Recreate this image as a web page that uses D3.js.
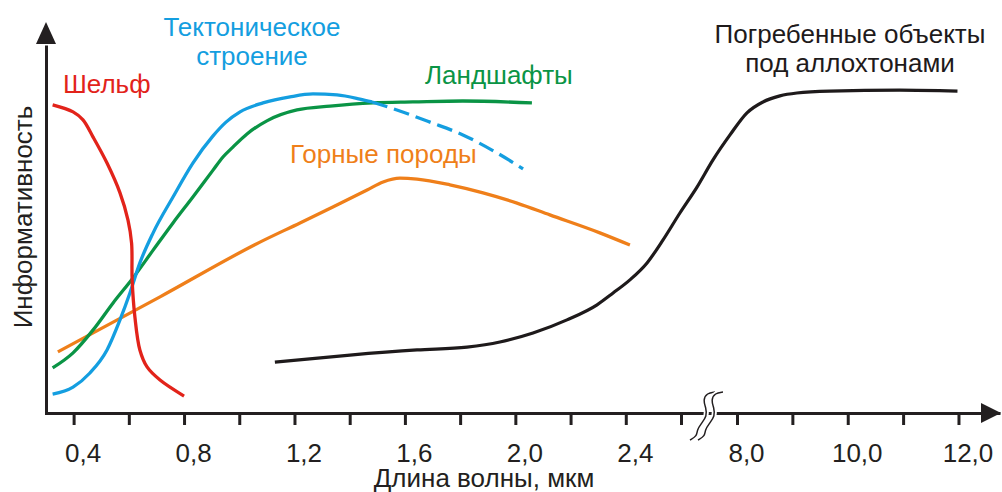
<!DOCTYPE html>
<html>
<head>
<meta charset="utf-8">
<script src="https://cdn.jsdelivr.net/npm/d3@7"></script>
<style>
  body { margin: 0; background: #fff; }
  svg text { font-family: "Liberation Sans", Arial, sans-serif; font-size: 26px; }
</style>
</head>
<body>
<svg id="graphic" width="1002" height="492"></svg>
<script>
// wavelength (µm) and informativeness (relative units, 0..100)
const shelfX = [0.324, 0.398, 0.434, 0.470, 0.521, 0.568, 0.597, 0.610, 0.612, 0.622, 0.640, 0.666, 0.713, 0.800];
const shelfY = [96.3, 94.1, 91.6, 86.3, 78.1, 68.8, 60.3, 53.1, 41.6, 30.0, 19.7, 14.4, 10.3, 5.3];

const tectonicX = [0.324, 0.398, 0.459, 0.521, 0.568, 0.604, 0.640, 0.688, 0.760, 0.832, 0.905, 0.952, 1.003, 1.086, 1.184, 1.267, 1.354, 1.437, 1.481];
const tectonicY = [5.9, 8.1, 12.5, 19.7, 29.1, 37.5, 46.9, 56.3, 67.5, 78.1, 86.6, 90.9, 94.1, 96.9, 98.8, 99.7, 99.4, 98.1, 97.2];
// dashed continuation of the same curve
const tectonicDashX = [1.481, 1.571, 1.691, 1.810, 1.933, 2.028];
const tectonicDashY = [97.2, 94.7, 90.9, 86.9, 81.3, 76.3];

const landscapeX = [0.324, 0.398, 0.470, 0.543, 0.615, 0.688, 0.760, 0.832, 0.905, 0.941, 0.977, 1.028, 1.100, 1.209, 1.329, 1.484, 1.629, 1.810, 2.060];
const landscapeY = [14.1, 18.8, 25.9, 34.4, 42.2, 50.9, 59.4, 67.5, 75.9, 80.0, 83.1, 87.2, 91.3, 94.7, 95.9, 96.9, 97.2, 97.5, 96.9];

const rocksX = [0.343, 0.713, 1.075, 1.220, 1.339, 1.463, 1.521, 1.582, 1.644, 1.763, 1.883, 2.006, 2.125, 2.306, 2.415];
const rocksY = [19.1, 36.3, 53.4, 59.4, 64.4, 69.7, 72.2, 73.4, 73.1, 71.3, 68.8, 65.6, 61.9, 56.3, 52.5];

const buriedX = [1.129, 1.401, 1.644, 1.825, 1.944, 2.064, 2.187, 2.296, 2.354, 2.415, 2.477, 2.535, 2.596, 4.143, 5.686, 7.325, 8.180, 8.468, 8.775, 9.081, 9.676, 10.937, 11.982];
const buriedY = [15.9, 18.1, 19.7, 20.6, 22.2, 25.0, 29.1, 33.8, 37.5, 41.6, 46.9, 54.1, 62.5, 70.6, 79.1, 86.9, 93.8, 97.2, 99.1, 100, 100.6, 100.9, 100.6];

const tickValues = [0.4, 0.6, 0.8, 1.0, 1.2, 1.4, 1.6, 1.8, 2.0, 2.2, 2.4, 2.6, 8, 9, 10, 11, 12];
const labelValues = [0.4, 0.8, 1.2, 1.6, 2.0, 2.4, 8, 10, 12];
const labelTexts = ["0,4", "0,8", "1,2", "1,6", "2,0", "2,4", "8,0", "10,0", "12,0"];

const xTitle = "Длина волны, мкм";
const yTitle = "Информативность";

const ink = "#231f20";
const red = "#e2231a", blue = "#149ee0", green = "#0a9445", orange = "#ef7f1a", black = "#1e1a1b";

let svg = d3.select('#graphic');

// broken axis: 0.3..2.6 then 8..12.75
let x = d3.scaleLinear()
    .domain([0.3, 2.6, 8, 12.75])
    .range([46, 681, 737, 1000]);

let y = d3.scaleLinear()
    .domain([0, 100])
    .range([413, 93]);

let lineX = d3.line()
    .x(d => x(d[0]))
    .y(d => y(d[1]))
    .curve(d3.curveMonotoneX);

// shelf curve is nearly vertical, monotone-x would break on it
let lineCR = d3.line()
    .x(d => x(d[0]))
    .y(d => y(d[1]))
    .curve(d3.curveCatmullRom.alpha(0.5));

const zip = (a, b) => a.map((v, i) => [v, b[i]]);

// axes
let xAxis = d3.axisBottom(x)
    .tickValues(tickValues)
    .tickSize(12)
    .tickSizeOuter(0)
    .tickFormat(v => {
        let i = labelValues.findIndex(l => Math.abs(l - v) < 1e-6);
        return i < 0 ? "" : labelTexts[i];
    });

let gx = svg.append('g')
    .attr('transform', `translate(0, ${y(0)})`)
    .call(xAxis);
gx.select('.domain').attr('stroke', ink).attr('stroke-width', 3);
gx.selectAll('.tick line').attr('stroke', ink).attr('stroke-width', 3);
gx.selectAll('.tick text')
    .attr('font-size', 26)
    .attr('font-family', '"Liberation Sans", Arial, sans-serif')
    .attr('fill', ink)
    .attr('x', 9)
    .attr('y', 49)
    .attr('dy', 0);

svg.append('path')
    .attr('d', `M${x(12.75) + 1},${y(0)} L${x(12.75) - 19},${y(0) - 10} L${x(12.75) - 19},${y(0) + 10} Z`)
    .attr('fill', ink);

let yAxis = d3.axisLeft(y.copy().domain([0, 115]).range([y(0) + 1.5, y(115)]))
    .tickValues([])
    .tickSizeOuter(0);
let gy = svg.append('g')
    .attr('transform', `translate(${x(0.3)}, 0)`)
    .call(yAxis);
gy.select('.domain').attr('stroke', ink).attr('stroke-width', 3);

svg.append('path')
    .attr('d', `M${x(0.3)},${y(122.2)} L${x(0.3) - 10},${y(115) - 1} L${x(0.3) + 10},${y(115) - 1} Z`)
    .attr('fill', ink);

// axis break squiggles
let bx = (x(2.6) + x(8)) / 2;
let squiggle = d3.line().curve(d3.curveBasis);
const sq = [[8, -21], [0, -20], [-4, -13], [-1, -5], [0, 3], [-6, 11], [-10, 17], [-10, 23], [-17, 27]];
[bx - 2, bx + 6].forEach(cx => {
    let pts = sq.map(p => [cx + p[0], y(0) + p[1]]);
    svg.append('path').attr('d', squiggle(pts))
        .attr('fill', 'none').attr('stroke', '#fff').attr('stroke-width', 5);
    svg.append('path').attr('d', squiggle(pts))
        .attr('fill', 'none').attr('stroke', ink).attr('stroke-width', 1.5);
});

// curves
const curves = [
    { pts: zip(rocksX, rocksY), color: orange, w: 3.3, gen: lineX },
    { pts: zip(buriedX, buriedY), color: black, w: 3.2, gen: lineX },
    { pts: zip(landscapeX, landscapeY), color: green, w: 3.3, gen: lineX },
    { pts: zip(tectonicX, tectonicY), color: blue, w: 3.3, gen: lineX },
    { pts: zip(tectonicDashX, tectonicDashY), color: blue, w: 3.3, gen: lineX, dash: "16,7" },
    { pts: zip(shelfX, shelfY), color: red, w: 3.3, gen: lineCR }
];

svg.selectAll('.curve')
    .data(curves)
    .enter()
    .append('path')
    .classed('curve', true)
    .attr('d', d => d.gen(d.pts))
    .attr('fill', 'none')
    .attr('stroke', d => d.color)
    .attr('stroke-width', d => d.w)
    .attr('stroke-dasharray', d => d.dash || null);

// curve labels
const labels = [
    { lines: ["Шельф"], x: 63, y: 93, color: red, anchor: "start" },
    { lines: ["Тектоническое", "строение"], x: 252, y: 36, color: blue, anchor: "middle" },
    { lines: ["Ландшафты"], x: 425, y: 84, color: green, anchor: "start" },
    { lines: ["Горные породы"], x: 290, y: 163, color: orange, anchor: "start" },
    { lines: ["Погребенные объекты", "под аллохтонами"], x: 850, y: 43, color: black, anchor: "middle" }
];

labels.forEach(l => {
    let t = svg.append('text')
        .attr('x', l.x)
        .attr('y', l.y)
        .attr('fill', l.color)
        .attr('text-anchor', l.anchor);
    l.lines.forEach((s, i) => {
        t.append('tspan').attr('x', l.x).attr('dy', i === 0 ? 0 : 29).text(s);
    });
});

// axis titles
svg.append('text')
    .attr('x', 484)
    .attr('y', 487)
    .attr('text-anchor', 'middle')
    .attr('font-size', 25)
    .attr('fill', ink)
    .text(xTitle);

svg.append('text')
    .attr('transform', 'translate(32, 217) rotate(-90)')
    .attr('text-anchor', 'middle')
    .attr('font-size', 25)
    .attr('fill', ink)
    .text(yTitle);
</script>
</body>
</html>
